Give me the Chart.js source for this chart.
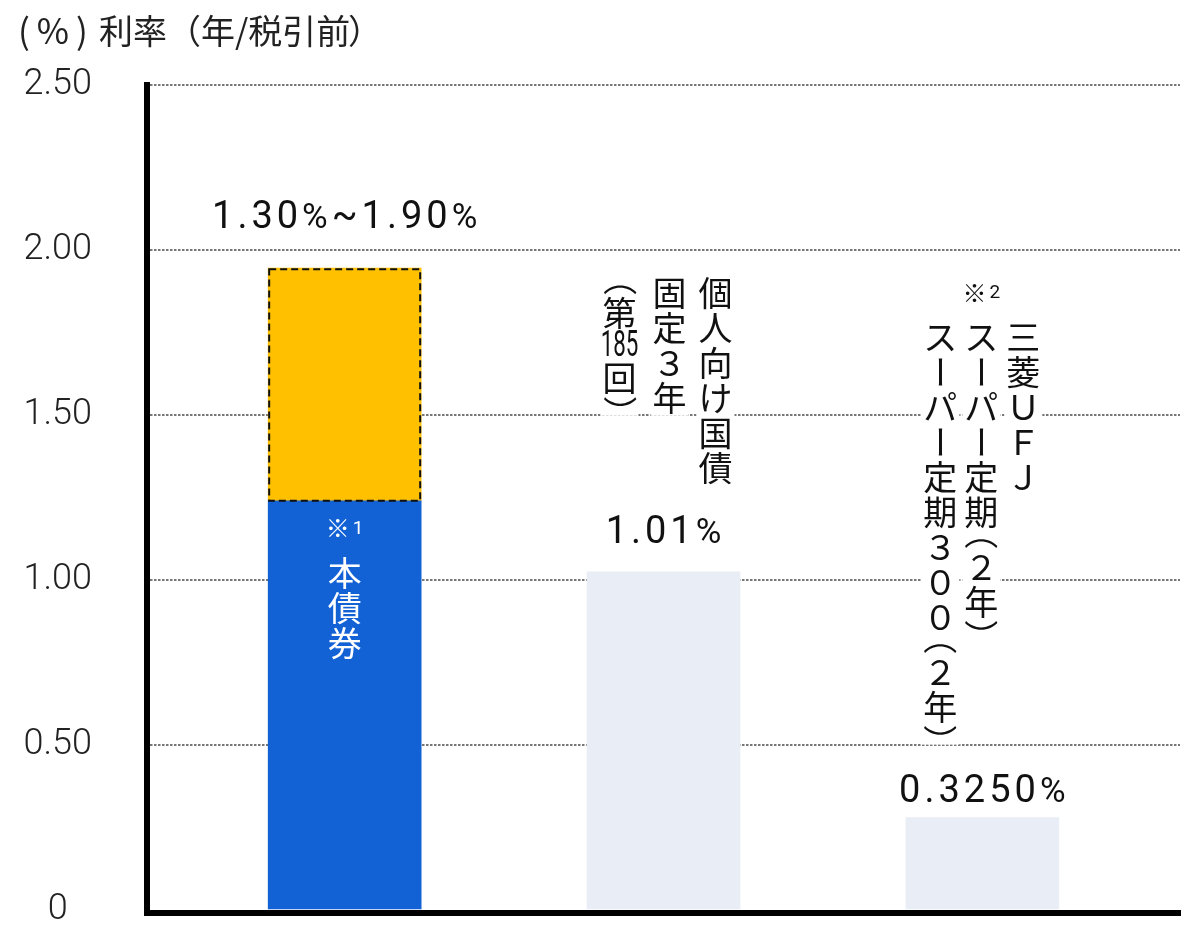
<!DOCTYPE html>
<html>
<head>
<meta charset="utf-8">
<script src="https://cdn.jsdelivr.net/npm/chart.js@4"></script>
<style>
  body { margin: 0; background: #fff; }
</style>
</head>
<body>
<canvas id="rateChart" width="1200" height="940"></canvas>
<script>
// values (bar heights as drawn)
const categories = ['本債券', '個人向け国債 固定3年（第185回）', '三菱UFJ スーパー定期（2年）／スーパー定期300（2年）'];
const barBase = [1.24, 1.025, 0.28];
const barRange = [0.705, 0, 0];
const valueLabels = ['1.30%~1.90%', '1.01%', '0.3250%'];
const notes = ['※1', '', '※2'];
const yTicks = [0, 0.5, 1, 1.5, 2, 2.5];
const yTickLabels = ['0', '0.50', '1.00', '1.50', '2.00', '2.50'];
const verticalLabels = [
  [['本', '債', '券']],
  [[...'個人向け国債'], [...'固定３年'], ['（', '第', '185', '回', '）']],
  [[...'三菱ＵＦＪ'], [...'スーパー定期（２年）'], [...'スーパー定期３００（２年）']]
];

const JP = '"Noto Sans CJK JP", sans-serif';
const NUM = 'Roboto, "Noto Sans", sans-serif';

function tokenHeight(t) {
  if (t === '（' || t === '）') return 20;
  if (t.length > 1) return 30;
  return 35;
}

function columnHeight(tokens) {
  return tokens.reduce((s, t) => s + tokenHeight(t), 0);
}

function drawColumn(ctx, tokens, cx, top, color) {
  ctx.fillStyle = color;
  ctx.textAlign = 'center';
  ctx.textBaseline = 'middle';
  let y = top;
  tokens.forEach(t => {
    const h = tokenHeight(t);
    if (t === '（' || t === '）' || t === 'ー') {
      const cy = t === '（' ? y + 3 : t === '）' ? y + 17 : y + h / 2;
      ctx.save();
      ctx.font = '34px ' + JP;
      ctx.translate(cx, cy);
      ctx.rotate(Math.PI / 2);
      ctx.fillText(t, 0, 0);
      ctx.restore();
    } else if (t.length > 1) {
      ctx.save();
      ctx.font = '36px ' + NUM;
      ctx.translate(cx, y + h / 2 + 1);
      ctx.scale(0.62, 1);
      ctx.fillText(t, 0, 0);
      ctx.restore();
    } else {
      ctx.font = '34px ' + JP;
      ctx.fillText(t, cx, y + h / 2);
    }
    y += h;
  });
}

function drawValue(ctx, text, cx, baseline) {
  const parts = [...text].map(ch => ({
    ch,
    font: ch === '%' ? '35px ' + NUM : '38px ' + NUM
  }));
  const spacing = 4;
  let total = 0;
  parts.forEach(p => {
    ctx.font = p.font;
    p.w = ctx.measureText(p.ch).width;
    total += p.w;
  });
  total += spacing * (parts.length - 1);
  let x = cx - total / 2;
  ctx.fillStyle = '#111';
  ctx.textAlign = 'left';
  ctx.textBaseline = 'alphabetic';
  parts.forEach(p => {
    ctx.font = p.font;
    ctx.fillText(p.ch, x, baseline);
    x += p.w + spacing;
  });
}

function drawNote(ctx, text, cx, cy, color) {
  const mark = text[0];
  const num = text.slice(1);
  ctx.textBaseline = 'middle';
  ctx.textAlign = 'left';
  ctx.fillStyle = color;
  ctx.font = '24px ' + JP;
  const w1 = ctx.measureText(mark).width;
  ctx.font = '19px ' + NUM;
  const w2 = ctx.measureText(num).width;
  const x = cx - (w1 + w2 + 3) / 2;
  ctx.font = '24px ' + JP;
  ctx.fillText(mark, x, cy);
  ctx.font = '19px ' + NUM;
  ctx.fillText(num, x + w1 + 3, cy + 1);
}

function drawTitle(ctx) {
  ctx.save();
  ctx.fillStyle = '#222';
  ctx.textAlign = 'left';
  ctx.textBaseline = 'middle';
  ctx.font = '35px ' + JP;
  ctx.letterSpacing = '7px';
  ctx.fillText('(%)', 18, 31);
  ctx.letterSpacing = '0px';
  ctx.font = '34px ' + JP;
  ctx.fillText('利率（年/税引前', 99, 31);
  ctx.fillText('）', 348, 31);
  ctx.restore();
}

const labelPlugin = {
  id: 'labelPlugin',
  afterDatasetsDraw(chart) {
    const ctx = chart.ctx;
    // dashed outline round the range segment
    const meta = chart.getDatasetMeta(1);
    meta.data.forEach((bar, i) => {
      if (!barRange[i]) return;
      const half = bar.width / 2;
      ctx.save();
      ctx.strokeStyle = '#111';
      ctx.lineWidth = 2;
      ctx.setLineDash([7, 4]);
      ctx.strokeRect(bar.x - half + 1, bar.y + 1, bar.width - 2, bar.base - bar.y - 1);
      ctx.restore();
    });
  },
  afterDraw(chart) {
    const ctx = chart.ctx;
    const gaps = [40, 29, 16];
    const colOffsets = [[0], [52, 6, -44], [41, -1, -42]];
    const base = chart.getDatasetMeta(0).data;
    const top = chart.getDatasetMeta(1).data;
    drawTitle(ctx);
    ctx.save();
    categories.forEach((c, i) => {
      const cx = base[i].x;
      const barTop = barRange[i] ? Math.min(top[i].y, base[i].y) : base[i].y;
      const baseline = barTop - gaps[i];
      drawValue(ctx, valueLabels[i], cx, baseline);
      const cols = verticalLabels[i];
      if (i === 0) {
        const blueTop = base[i].y;
        drawNote(ctx, notes[i], cx, blueTop + 27, '#fff');
        drawColumn(ctx, cols[0], cx, blueTop + 55, '#fff');
        return;
      }
      const maxH = Math.max(...cols.map(columnHeight));
      const colTop = baseline - 57 - maxH;
      cols.forEach((col, k) => {
        const x = cx + colOffsets[i][k];
        ctx.fillStyle = '#fff';
        ctx.fillRect(x - 19, colTop, 38, columnHeight(col));
        drawColumn(ctx, col, x, colTop, '#111');
      });
      if (notes[i]) drawNote(ctx, notes[i], cx + colOffsets[i][1], colTop - 27, '#111');
    });
    ctx.restore();
  }
};

new Chart(document.getElementById('rateChart'), {
  type: 'bar',
  data: {
    datasets: [
      {
        data: barBase.map((v, i) => ({ x: i, y: v })),
        backgroundColor: ['#1262d6', '#e9edf5', '#e9edf5'],
        borderWidth: 0,
        barThickness: 153
      },
      {
        data: barRange.map((v, i) => ({ x: i, y: v || null })),
        backgroundColor: '#ffc000',
        borderWidth: 0,
        barThickness: 153
      }
    ]
  },
  options: {
    responsive: false,
    animation: false,
    layout: { padding: { top: 85, left: 20, right: 20, bottom: 27 } },
    plugins: {
      legend: { display: false },
      tooltip: { enabled: false },
      title: { display: false }
    },
    scales: {
      x: {
        type: 'linear',
        stacked: true,
        offset: false,
        min: -0.62,
        max: 2.62,
        afterFit: scale => { scale.height = 0; },
        ticks: { display: false },
        grid: { color: 'transparent', drawTicks: false },
        border: { color: '#000', width: 6 }
      },
      y: {
        stacked: true,
        min: -3 / 330,
        max: 2.5,
        afterBuildTicks: scale => { scale.ticks = yTicks.map(v => ({ value: v })); },
        afterFit: scale => {
          scale.width = 127;
          scale.paddingTop = 20;
          scale.paddingBottom = 20;
        },
        ticks: {
          padding: 55,
          crossAlign: 'center',
          color: '#222',
          font: { family: NUM, size: 36, weight: '300' },
          callback: v => yTickLabels[yTicks.indexOf(v)] ?? ''
        },
        grid: {
          drawTicks: false,
          lineWidth: 2,
          color: ctx => (ctx.tick && ctx.tick.value === 0 ? 'transparent' : '#777')
        },
        border: { color: '#000', width: 6, dash: [2.5, 1.5] }
      }
    }
  },
  plugins: [labelPlugin]
});
</script>
</body>
</html>
